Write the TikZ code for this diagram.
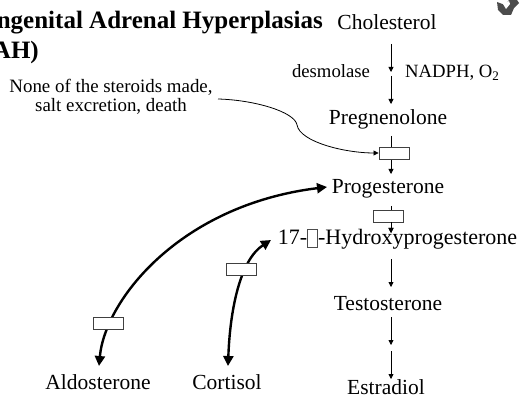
\documentclass[tikz,border=0pt]{standalone}
\usepackage{fontspec}
\setmainfont{Liberation Serif}
\usetikzlibrary{arrows.meta}
\newcommand{\fs}[1]{\fontsize{#1}{#1}\selectfont}
\tikzset{
  x=1pt,y=-1pt,
  label text/.style={font=\fs{21.5},inner sep=0pt,anchor=base},
  small text/.style={font=\fs{18.7},inner sep=0pt,anchor=base},
  title text/.style={font=\fs{25}\bfseries,inner sep=0pt,anchor=base},
  thin arrow/.style={draw=black,line width=0.8pt,-{Triangle[length=5pt,width=5pt]}},
  thick arrow/.style={draw=black,line width=2.4pt,{Triangle[length=10pt,width=10pt]}-{Triangle[length=10pt,width=10pt]}},
  enzyme box/.style={draw=black!75,fill=white,line width=0.9pt,minimum width=30pt,minimum height=12pt,inner sep=0pt},
}
\begin{document}
\begin{tikzpicture}
\useasboundingbox (0,0) rectangle (521,411);
% titles
\node[title text,anchor=base east] (t1) at (323,29) {ngenital Adrenal Hyperplasias};
\node[title text,anchor=base east] (t2) at (39,59) {AH)};
% mascot
\fill[black!70] (497,2) -- (498,10) -- (503,15) -- (511,15) -- (514,8) -- (519,3) -- (517,0) -- (509,0) -- (505,5) -- cycle;
\fill[white] (503,4) -- (506,9) -- (510,4) -- (509,1) -- cycle;
% main chain
\node[label text] (chol) at (387,30) {Cholesterol};
\node[label text] (preg) at (388,125) {Pregnenolone};
\node[label text] (prog) at (388,194) {Progesterone};
\node[label text,font=\fs{22}] (ohp) at (397.5,245) {17-{\setlength{\fboxsep}{0pt}\setlength{\fboxrule}{1pt}\color{black!70}\fbox{\rule{9pt}{0pt}\rule[-2pt]{0pt}{17pt}}}-Hydroxyprogesterone};
\node[label text] (test) at (388,310) {Testosterone};
\node[label text] (estr) at (386,394) {Estradiol};
\node[label text] (aldo) at (98,389) {Aldosterone};
\node[label text] (cort) at (227,389) {Cortisol};
\node[small text] (des) at (331,78) {desmolase};
\node[small text,anchor=base west] (nad) at (405,78) {NADPH, O\textsubscript{2}};
\node[small text,font=\fs{18.9},align=center,anchor=center] (none) at (111,97) {None of the steroids made,\\salt excretion, death};
% coordinates
\coordinate (a1) at (391,44); \coordinate (a2) at (391,72);
\coordinate (a3) at (391,76); \coordinate (a4) at (391,104);
\coordinate (b1) at (391,136); \coordinate (b2) at (391,174);
\coordinate (c1) at (391,206); \coordinate (c2) at (391,233);
\coordinate (d1) at (391,259); \coordinate (d2) at (391,287);
\coordinate (e1) at (391,317); \coordinate (e2) at (391,345);
\coordinate (f1) at (391,351); \coordinate (f2) at (391,379);
\coordinate (g1) at (218,99);
\coordinate (hA) at (99,366); \coordinate (hB) at (327,187);
\coordinate (hC) at (228,366); \coordinate (hD) at (271,240);
\foreach \s/\e in {a1/a2,a3/a4,b1/b2,c1/c2,d1/d2,e1/e2,f1/f2} \draw[thin arrow] (\s) -- (\e);
% inhibited steps
\node[enzyme box] (bx1) at (394,153) {};
\node[enzyme box] (bx4) at (388,216.5) {};
\draw[line width=0.8pt,-{Triangle[length=5pt,width=5pt]}] (g1) .. controls (255,100) and (295,112) .. (297,125) .. controls (300,142) and (345,153) .. (bx1.west);
\draw[thin arrow] (391,222) -- (c2);
\draw[thick arrow] (hA) .. controls (105,300) and (180,205) .. (hB);
\draw[thick arrow] (hC) .. controls (230,310) and (240,260) .. (hD);
\node[enzyme box] (bx2) at (108,323) {};
\node[enzyme box] (bx3) at (241,269) {};
\end{tikzpicture}
\end{document}
